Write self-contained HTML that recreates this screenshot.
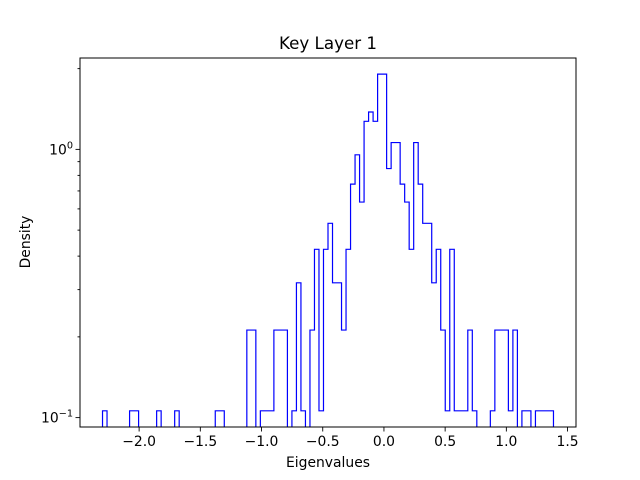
<!DOCTYPE html>
<html><head><meta charset="utf-8"><style>
body{margin:0;background:#fff;}
svg{display:block;font-family:"DejaVu Sans","Liberation Sans",sans-serif;}
</style></head><body>
<svg id="chart" width="640" height="480" viewBox="0 0 640 480">
<rect width="640" height="480" fill="#fff"/>
<defs><clipPath id="clip"><rect x="80" y="58" width="496" height="369"/></clipPath></defs>
<g id="plot" clip-path="url(#clip)"></g>
<g id="axes"></g>
<text x="328" y="49" font-size="16.7" text-anchor="middle">Key Layer 1</text>
<text x="328" y="467" font-size="13.9" text-anchor="middle">Eigenvalues</text>
<text x="30" y="242" font-size="13.9" text-anchor="middle" transform="rotate(-90 30 242)">Density</text>
</svg>
<script>
const binStart = -2.299;
const binEnd = 1.385;
const counts = [1,0,0,0,0,0,1,1,0,0, 0,0,1,0,0,0,1,0,0,0, 0,0,0,0,0,1,1,0,0,0, 0,0,2,2,0,1,1,1,2,2, 2,0,1,3,1,0,2,4,1,4, 5,3,3,2,4,7,9,6,12,13, 12,18,18,8,10,10,7,6,4,10, 7,5,5,3,4,2,1,4,1,1, 1,2,1,0,0,0,1,2,2,2, 1,2,0,1,1,0,1,1,1,1];
const xTicks = [-2.0,-1.5,-1.0,-0.5,0.0,0.5,1.0,1.5];
const xTickLabels = ["\u22122.0","\u22121.5","\u22121.0","\u22120.5","0.0","0.5","1.0","1.5"];
const yMajor = [0.1, 1];
const yMinor = [0.2,0.3,0.4,0.5,0.6,0.7,0.8,0.9,2];

const L=80,R=576,T=58,B=427;
const xMin=-2.483,xMax=1.569;
const lgMin=-1.035,lgMax=0.3407;
const sx=v=>L+(v-xMin)/(xMax-xMin)*(R-L);
const sy=v=>v<=0?B+50:B-(Math.log10(v)-lgMin)/(lgMax-lgMin)*(B-T);
const NS="http://www.w3.org/2000/svg";
const plot=document.getElementById('plot'), axes=document.getElementById('axes');

const n=counts.length, w=(binEnd-binStart)/n;
const total=counts.reduce((a,b)=>a+b,0);
let d=`M${sx(binStart)},${B+50}`;
counts.forEach((c,i)=>{
  const y=sy(c/(total*w));
  d+=` L${sx(binStart+i*w)},${y} L${sx(binStart+(i+1)*w)},${y}`;
});
d+=` L${sx(binEnd)},${B+50}`;
const p=document.createElementNS(NS,'path');
p.setAttribute('d',d);p.setAttribute('fill','none');p.setAttribute('stroke','#0000ff');p.setAttribute('stroke-width','1.2');


plot.appendChild(p);

const frame=document.createElementNS(NS,'rect');
frame.setAttribute('x',L);frame.setAttribute('y',T);frame.setAttribute('width',R-L);frame.setAttribute('height',B-T);
frame.setAttribute('fill','none');frame.setAttribute('stroke','#000');frame.setAttribute('stroke-width','1');


axes.appendChild(frame);

function line(x1,y1,x2,y2){const l=document.createElementNS(NS,'line');
l.setAttribute('x1',x1);l.setAttribute('y1',y1);l.setAttribute('x2',x2);l.setAttribute('y2',y2);
l.setAttribute('stroke','#000');l.setAttribute('stroke-width','0.9');return l;}

xTicks.forEach((t,i)=>{
  const x=sx(t);
  const l=line(x,B,x,B+4.5);
  
  
  axes.appendChild(l);
  const tx=document.createElementNS(NS,'text');
  tx.setAttribute('x',x);tx.setAttribute('y',B+19);tx.setAttribute('font-size','13.9');tx.setAttribute('text-anchor','middle');
  tx.textContent=xTickLabels[i];
  
  
  axes.appendChild(tx);
});
yMinor.forEach(v=>{
  const y=sy(v); if(y<T||y>B) return;
  const l=line(L-2.5,y,L,y);
  
  
  axes.appendChild(l);
});
yMajor.forEach(v=>{
  const y=sy(v);
  const l=line(L-4.5,y,L,y);
  
  
  axes.appendChild(l);
  const tx=document.createElementNS(NS,'text');
  tx.setAttribute('x',L-22);tx.setAttribute('y',y+5);tx.setAttribute('font-size','13.9');tx.setAttribute('text-anchor','end');
  tx.textContent='10';
  
  
  const e=document.createElementNS(NS,'tspan');
  e.setAttribute('dy','-6');e.setAttribute('font-size','9.7');
  e.textContent=String(Math.round(Math.log10(v))).replace('-','\u2212');
  const g=document.createElementNS(NS,'text');
  g.setAttribute('x',L-7);g.setAttribute('y',y+5);g.setAttribute('text-anchor','end');g.setAttribute('font-size','13.9');
  const base=document.createElementNS(NS,'tspan');base.textContent='10';
  g.appendChild(base);g.appendChild(e);
  
  
  axes.appendChild(g);
});
</script>
</body></html>
